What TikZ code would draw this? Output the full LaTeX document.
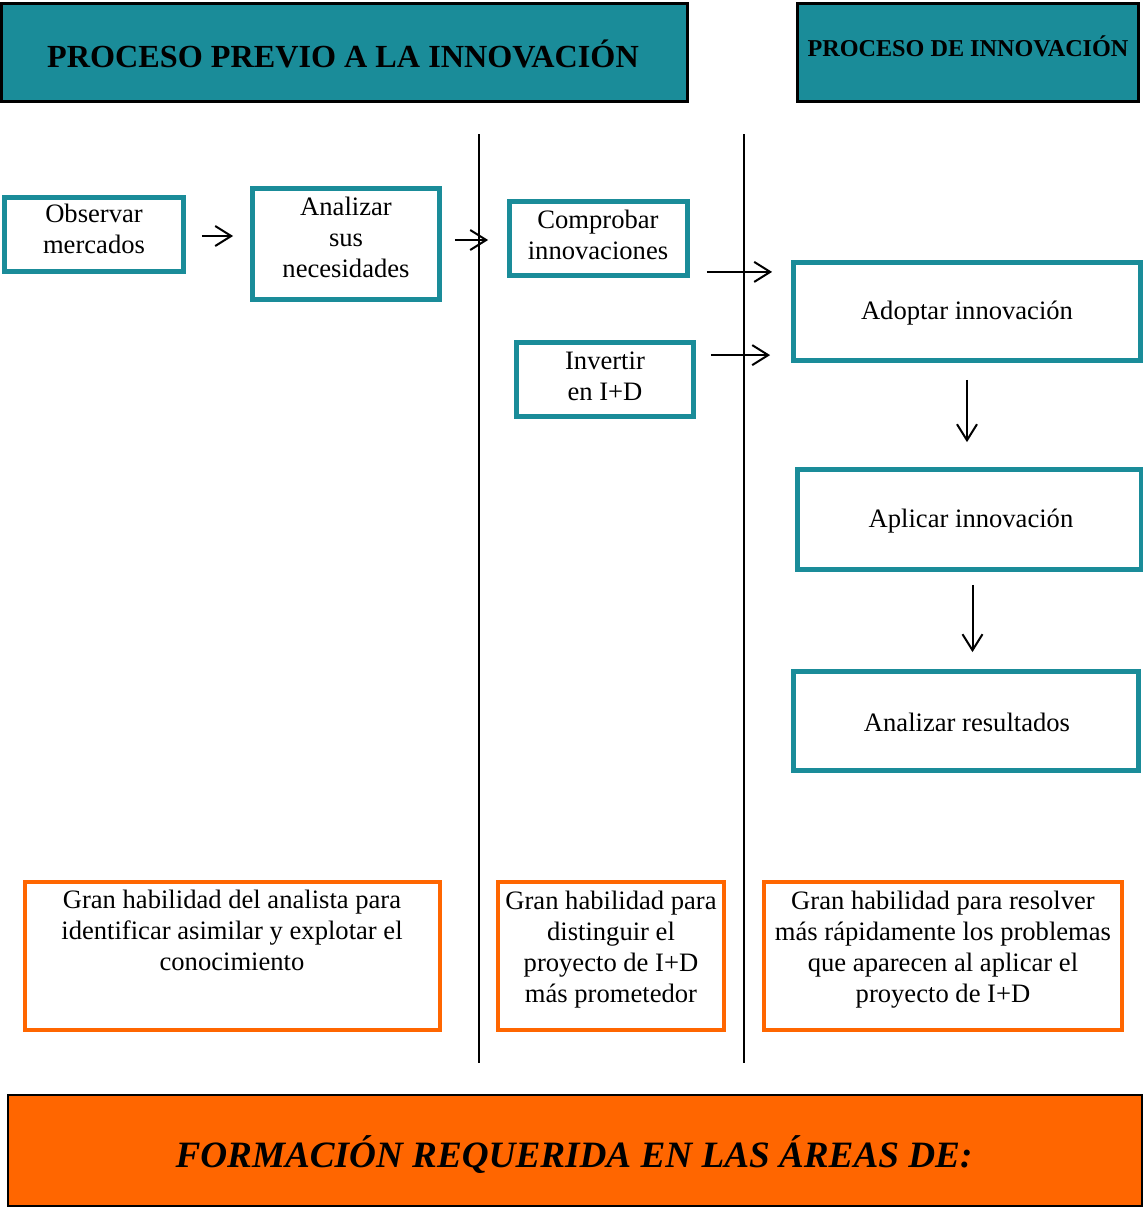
\documentclass[tikz,border=0pt]{standalone}
\usepackage{fontspec}
\setmainfont{Liberation Serif}
\usetikzlibrary{arrows.meta,fit}
\definecolor{tealc}{RGB}{26,140,153}
\definecolor{orangec}{RGB}{255,102,0}
\tikzset{
  hdr/.style={draw=black, line width=1.5pt, fill=tealc, inner sep=0pt},
  tbox/.style={draw=tealc, line width=2.4pt, inner sep=0pt},
  obox/.style={draw=orangec, line width=2pt, inner sep=0pt},
  ftr/.style={draw=black, line width=1pt, fill=orangec, inner sep=0pt},
  txt/.style={align=center, inner sep=0pt, font=\fontsize{13.3}{15.5}\selectfont},
  arr/.style={line width=1pt, -{Straight Barb[length=8pt,width=10pt,line width=1pt]}},
  vline/.style={line width=1pt}
}
\begin{document}
\begin{tikzpicture}[x=0.5pt,y=-0.5pt]
\useasboundingbox (0,0) rectangle (1143,1207);
% headers
\node[hdr, fit={(1.5,3.5) (687.5,101.5)}] (h1) {};
\node[hdr, fit={(797.5,3.5) (1138.5,101.5)}] (h2) {};
\node[inner sep=0pt, font=\fontsize{16.1}{19}\selectfont\bfseries] (h1t) at (343,54) {PROCESO PREVIO A LA INNOVACIÓN};
\node[inner sep=0pt, font=\fontsize{12.1}{14}\selectfont\bfseries] (h2t) at (968,46) {PROCESO DE INNOVACIÓN};
% vertical separators
\coordinate (v1t) at (479,134); \coordinate (v1b) at (479,1063);
\coordinate (v2t) at (744,134); \coordinate (v2b) at (744,1063);
\draw[vline] (v1t) -- (v1b);
\draw[vline] (v2t) -- (v2b);
% teal boxes
\node[tbox, fit={(4.5,197.5) (183.5,271.5)}] (obs) {};
\node[tbox, fit={(252.5,188.5) (439.5,299.5)}] (ana) {};
\node[tbox, fit={(509.5,201.5) (687.5,275.5)}] (comp) {};
\node[tbox, fit={(516.5,342.5) (693.5,416.5)}] (inv) {};
\node[tbox, fit={(793.5,262.5) (1140.5,360.5)}] (ado) {};
\node[tbox, fit={(797.5,469.5) (1141.5,569.5)}] (apl) {};
\node[tbox, fit={(793.5,671.5) (1138.5,770.5)}] (res) {};
\node[txt] (obst) at (94,229) {Observar\\mercados};
\node[txt] (anat) at (346,237.5) {Analizar\\sus\\necesidades};
\node[txt] (compt) at (598,235) {Comprobar\\innovaciones};
\node[txt] (invt) at (605,376) {Invertir\\en I+D};
\node[txt] (adot) at (967,313) {Adoptar innovación};
\node[txt] (aplt) at (971,521) {Aplicar innovación};
\node[txt] (rest) at (967,722) {Analizar resultados};
% orange boxes
\node[obox, fit={(25,882) (440,1030)}] (o1) {};
\node[obox, fit={(498,882) (724,1030)}] (o2) {};
\node[obox, fit={(764,882) (1122,1030)}] (o3) {};
\node[txt] (o1t) at (232,930.5) {Gran habilidad del analista para\\identificar asimilar y explotar el\\conocimiento};
\node[txt] (o2t) at (611,950) {Gran habilidad para\\distinguir el\\proyecto de I+D\\más prometedor};
\node[txt] (o3t) at (943,950) {Gran habilidad para resolver\\más rápidamente los problemas\\que aparecen al aplicar el\\proyecto de I+D};
% footer
\node[ftr, fit={(8,1095) (1142,1206)}] (ftr) {};
\node[inner sep=0pt, font=\fontsize{18.6}{22}\selectfont\bfseries\itshape] (ftrt) at (574,1155) {FORMACIÓN REQUERIDA EN LAS ÁREAS DE:};
% arrows
\coordinate (a1s) at ([yshift=-0.75pt]obs.east);
\draw[arr, shorten <=8pt, shorten >=8.5pt] (a1s) -- (a1s -| ana.west);
\coordinate (a2s) at ([yshift=2pt]ana.east);
\draw[arr, shorten <=6.5pt, shorten >=9.5pt] (a2s) -- (a2s -| comp.west);
\coordinate (a3s) at ([yshift=3pt]comp.south east);
\draw[arr, shorten <=8.5pt, shorten >=9.5pt] (a3s) -- (a3s -| ado.west);
\coordinate (a4s) at ([yshift=-7.5pt]inv.north east);
\draw[arr, shorten <=7.5pt, shorten >=10.5pt] (a4s) -- (a4s -| ado.west);
\draw[arr, shorten <=8.5pt, shorten >=12.5pt] (ado.south) -- (ado.south |- apl.north);
\coordinate (a6s) at ([xshift=1.5pt]apl.south);
\draw[arr, shorten <=6.5pt, shorten >=8.5pt] (a6s) -- (a6s |- res.north);
\end{tikzpicture}
\end{document}
